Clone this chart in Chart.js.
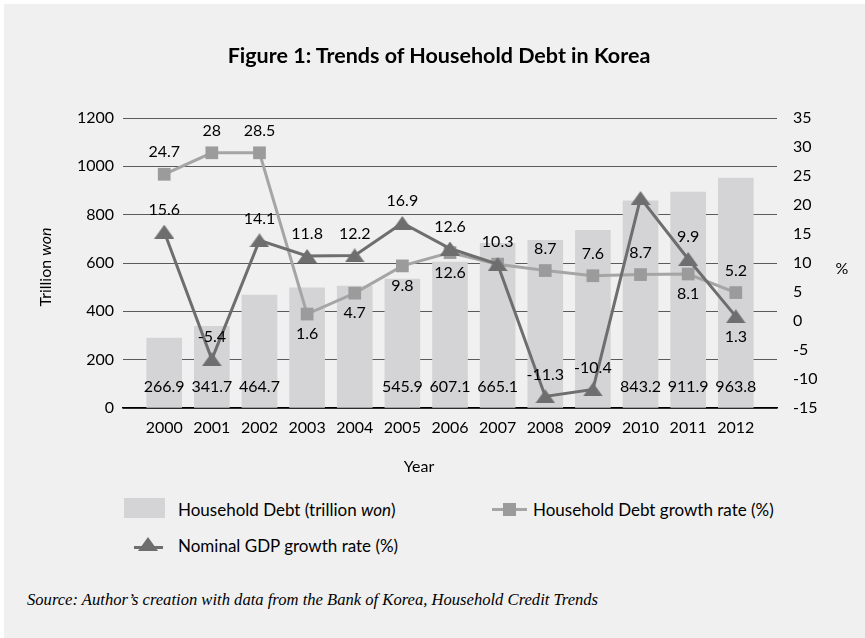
<!DOCTYPE html>
<html>
<head>
<meta charset="utf-8">
<script src="https://cdn.jsdelivr.net/npm/chart.js@4.4.1/dist/chart.umd.min.js"></script>
<style>
  html, body { margin: 0; padding: 0; background: #fff; }
  #page {
    position: absolute; left: 4px; top: 4px; width: 861px; height: 634px;
    background: #f0f0f0; font-family: Lato, sans-serif; color: #000;
  }
  #chart { position: absolute; left: -4px; top: -4px; }
  #title {
    position: absolute; left: 0; width: 870px; top: 38px; text-align: center;
    font-weight: bold; font-size: 21.5px;
  }
  .leg { position: absolute; font-size: 17px; line-height: 20px; white-space: nowrap; }
  .sw { position: absolute; }
  #source {
    position: absolute; left: 23px; top: 586px; font-family: "Liberation Serif", serif;
    font-style: italic; font-size: 16.6px;
  }
</style>
</head>
<body>
<div id="page">
  <canvas id="chart" width="865" height="480"></canvas>
  <div id="title">Figure 1: Trends of Household Debt in Korea</div>

  <div class="sw" style="left:120px;top:494px;width:41px;height:20px;background:#d4d4d6"></div>
  <div class="leg" style="left:174px;top:496px">Household Debt (trillion <i>won</i>)</div>

  <div class="sw" style="left:488px;top:504px;width:35px;height:3px;background:#a5a5a5"></div>
  <div class="sw" style="left:499px;top:499px;width:13px;height:13px;background:#9b9b9b"></div>
  <div class="leg" style="left:529px;top:496px">Household Debt growth rate (%)</div>

  <div class="sw" style="left:130px;top:542px;width:29px;height:3px;background:#6e6e6e"></div>
  <div class="sw" style="left:134px;top:533px;width:0;height:0;border-left:10px solid transparent;border-right:10px solid transparent;border-bottom:14px solid #6e6e6e"></div>
  <div class="leg" style="left:174px;top:532px">Nominal GDP growth rate (%)</div>

  <div id="source">Source: Author’s creation with data from the Bank of Korea, Household Credit Trends</div>
</div>
<script>
const years = ["2000", "2001", "2002", "2003", "2004", "2005", "2006", "2007", "2008", "2009", "2010", "2011", "2012"];

// bar heights and marker positions
const debt = [289, 338, 467, 497, 504, 533, 604, 681, 694, 735, 857, 893, 951];
const debtGrowth = [25.3, 29.0, 29.0, 1.2, 4.8, 9.5, 11.8, 9.8, 8.7, 7.8, 8.0, 8.1, 4.9];
const gdpGrowth = [15.4, -6.6, 13.9, 11.2, 11.3, 16.9, 12.5, 9.8, -13.0, -11.8, 21.2, 10.7, 0.8];

// the numbers printed next to the marks
const debtLabels = ["266.9", "341.7", "464.7", null, null, "545.9", "607.1", "665.1", null, null, "843.2", "911.9", "963.8"];
const debtGrowthLabels = ["24.7", "28", "28.5", "1.6", "4.7", "9.8", "12.6", null, "8.7", "7.6", "8.7", "8.1", "5.2"];
const gdpGrowthLabels = ["15.6", "-5.4", "14.1", "11.8", "12.2", "16.9", "12.6", "10.3", "-11.3", "-10.4", null, "9.9", "1.3"];
const debtGrowthBelow = [false, false, false, true, true, true, true, false, false, false, false, true, false];
const gdpGrowthBelow = [false, false, false, false, false, false, false, false, false, false, false, false, true];

const leftTicks = [0, 200, 400, 600, 800, 1000, 1200];
const rightTicks = [-15, -10, -5, 0, 5, 10, 15, 20, 25, 30, 35];

const FONT = { family: "Lato", size: 16 };

function triangle(w, h, color) {
  const c = document.createElement("canvas");
  c.width = w;
  c.height = h;
  const g = c.getContext("2d");
  g.fillStyle = color;
  g.beginPath();
  g.moveTo(w / 2, 0);
  g.lineTo(w, h);
  g.lineTo(0, h);
  g.closePath();
  g.fill();
  return c;
}

const xy = (arr) => arr.map((v, i) => ({ x: i, y: v }));

// value labels + axis titles
const labelPlugin = {
  id: "valueLabels",
  afterDatasetsDraw(chart) {
    const ctx = chart.ctx;
    const area = chart.chartArea;
    ctx.save();
    ctx.font = "16px Lato";
    ctx.fillStyle = "#000";
    ctx.textAlign = "center";
    ctx.textBaseline = "middle";
    chart.data.datasets.forEach((ds, di) => {
      const meta = chart.getDatasetMeta(di);
      meta.data.forEach((el, i) => {
        const txt = ds.valueLabels[i];
        if (txt == null) return;
        let y;
        if (ds.type === "bar") y = area.bottom - 21;
        else y = el.y + (ds.below[i] ? 20 : -22);
        ctx.fillText(txt, el.x, y);
      });
    });

    // y axis titles
    ctx.save();
    ctx.translate(46, 267);
    ctx.rotate(-Math.PI / 2);
    const a = "Trillion ";
    ctx.font = "16px Lato";
    const wa = ctx.measureText(a).width;
    ctx.font = "italic 16px Lato";
    const wb = ctx.measureText("won").width;
    ctx.textAlign = "left";
    ctx.font = "16px Lato";
    ctx.fillText(a, -(wa + wb) / 2, 0);
    ctx.font = "italic 16px Lato";
    ctx.fillText("won", -(wa + wb) / 2 + wa, 0);
    ctx.restore();

    ctx.textAlign = "center";
    ctx.font = "16px Lato";
    ctx.fillText("%", 842, 269);
    ctx.fillText("Year", 419, 467);
    ctx.restore();
  },
};

new Chart(document.getElementById("chart"), {
  data: {
    datasets: [
      {
        type: "line",
        label: "Nominal GDP growth rate (%)",
        data: xy(gdpGrowth),
        valueLabels: gdpGrowthLabels,
        below: gdpGrowthBelow,
        yAxisID: "y2",
        borderColor: "#6e6e6e",
        borderWidth: 3,
        pointStyle: triangle(20, 14, "#6e6e6e"),
        order: 1,
      },
      {
        type: "line",
        label: "Household Debt growth rate (%)",
        data: xy(debtGrowth),
        valueLabels: debtGrowthLabels,
        below: debtGrowthBelow,
        yAxisID: "y2",
        borderColor: "#a5a5a5",
        borderWidth: 3,
        pointStyle: "rect",
        pointRadius: 9,
        pointBorderWidth: 0,
        pointBackgroundColor: "#9b9b9b",
        order: 2,
      },
      {
        type: "bar",
        label: "Household Debt (trillion won)",
        data: xy(debt),
        valueLabels: debtLabels,
        yAxisID: "y",
        backgroundColor: "#d4d4d6",
        barThickness: 35,
        order: 3,
      },
    ],
  },
  options: {
    responsive: false,
    animation: false,
    devicePixelRatio: 1,
    layout: { padding: { top: 118, left: 0, right: 0, bottom: 0 } },
    plugins: {
      legend: { display: false },
      title: { display: false },
      tooltip: { enabled: false },
    },
    scales: {
      x: {
        type: "linear",
        min: -0.337,
        max: 12.337,
        afterBuildTicks: (s) => {
          s.ticks = years.map((_, i) => ({ value: i }));
        },
        afterFit: (s) => {
          s.height = 72;
        },
        ticks: {
          callback: (v) => years[v],
          font: FONT,
          color: "#000",
          padding: 10,
          maxRotation: 0,
          autoSkip: false,
        },
        grid: { display: false, drawTicks: false },
        border: { color: "#000", width: 1.5 },
      },
      y: {
        position: "left",
        min: 0,
        max: 1200,
        afterBuildTicks: (s) => {
          s.ticks = leftTicks.map((v) => ({ value: v }));
        },
        afterFit: (s) => {
          s.width = 123;
        },
        ticks: { font: FONT, color: "#000", padding: 9, callback: (v) => String(v) },
        grid: { color: "#5a5a5a", lineWidth: 1, drawTicks: false },
        border: { display: false },
      },
      y2: {
        position: "right",
        min: -15,
        max: 35,
        afterBuildTicks: (s) => {
          s.ticks = rightTicks.map((v) => ({ value: v }));
        },
        afterFit: (s) => {
          s.width = 88;
        },
        ticks: { font: FONT, color: "#000", padding: 16, callback: (v) => String(v) },
        grid: { display: false, drawTicks: false },
        border: { display: false },
      },
    },
  },
  plugins: [labelPlugin],
});
</script>
</body>
</html>
